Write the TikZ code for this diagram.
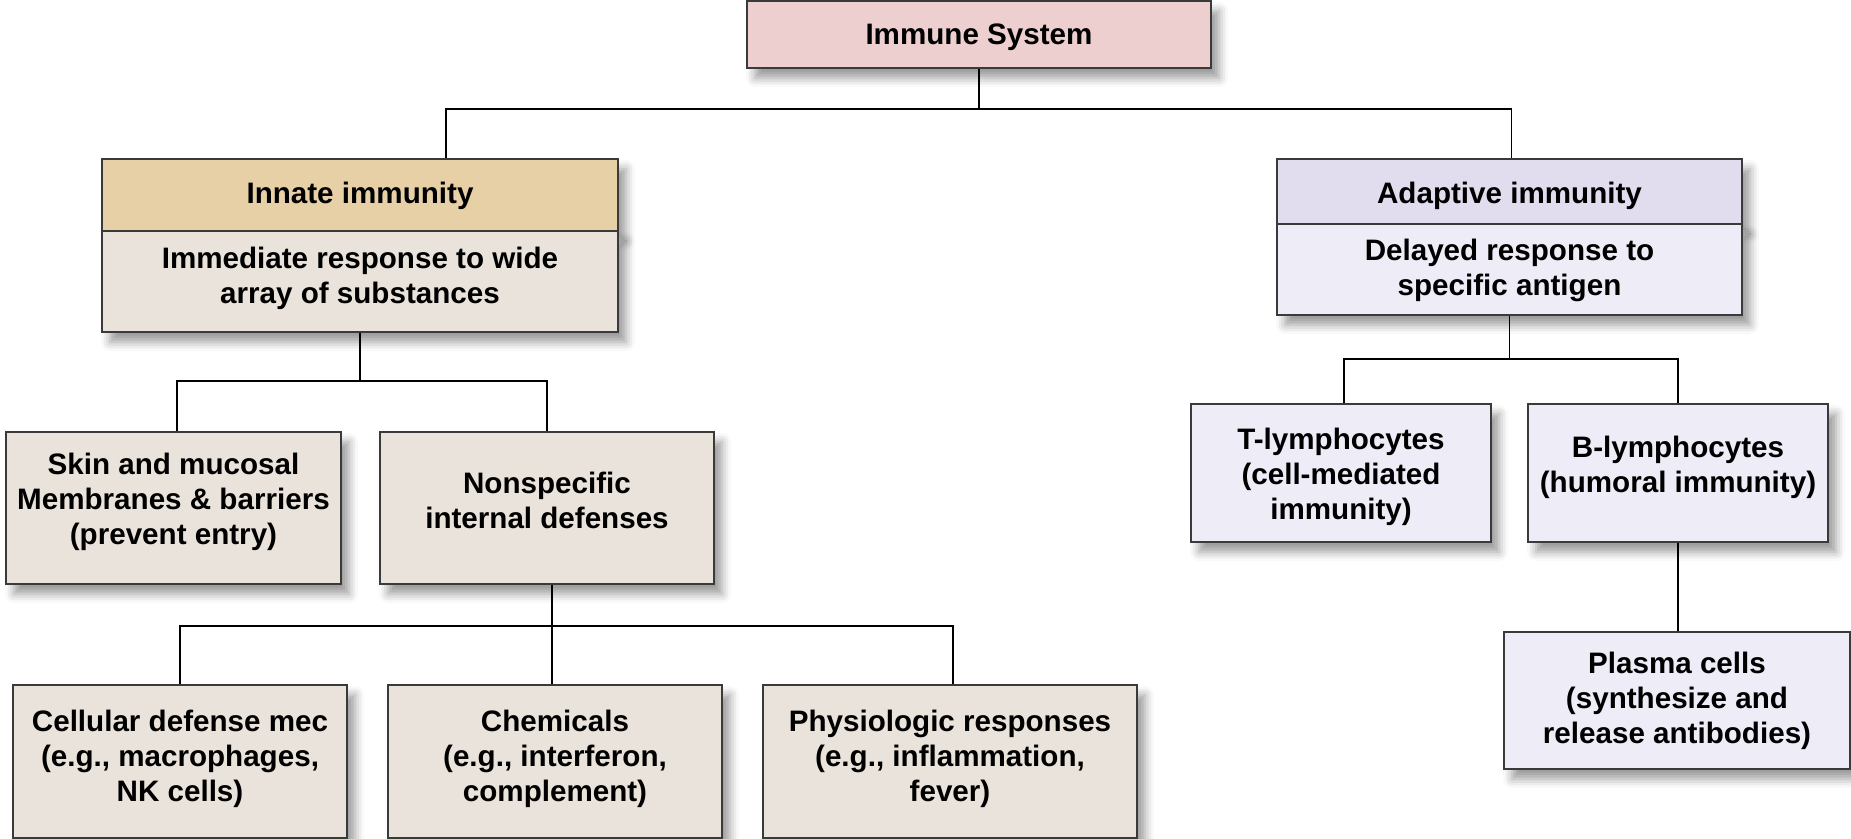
\documentclass[tikz,border=0pt]{standalone}
\usepackage{fontspec}
\setmainfont{Liberation Sans}
\usetikzlibrary{shadows.blur,calc}
\definecolor{immc}{HTML}{EDCFD0}
\definecolor{innhc}{HTML}{E8D0A6}
\definecolor{tanc}{HTML}{EAE3DB}
\definecolor{adhc}{HTML}{E1DDEE}
\definecolor{lavc}{HTML}{EEEDF7}
\definecolor{bordc}{HTML}{3A3A3A}
\begin{document}
\begin{tikzpicture}[x=0.5pt,y=-0.5pt,
  box/.style={draw=bordc, line width=0.8pt, inner sep=0pt,
    blur shadow={shadow xshift=4pt, shadow yshift=-5pt, shadow blur radius=4.5pt, shadow opacity=40}},
  txt/.style={align=center, inner sep=0pt, font=\fontsize{14.8}{17.5}\selectfont\bfseries},
  conn/.style={line width=0.8pt, black}]
\useasboundingbox (0,0) rectangle (1851,839);

% top
\node[box, fill=immc, minimum width=232pt, minimum height=33.5pt,
  label={[txt, yshift=-1.2pt]center:{Immune System}}] (imm) at (979,34.5) {};

% innate
\node[box, fill=innhc, minimum width=258pt, minimum height=36pt,
  label={[txt, yshift=-0.6pt]center:{Innate immunity}}] (innH) at (360,195) {};
\node[box, fill=tanc, minimum width=258pt, minimum height=50.5pt,
  label={[txt, yshift=1.75pt]center:{Immediate response to wide\\array of substances}}] (innB) at (360,281.5) {};

% adaptive
\node[box, fill=adhc, minimum width=232.5pt, minimum height=32.5pt,
  label={[txt, yshift=-2.4pt]center:{Adaptive immunity}}] (adH) at (1509.5,191.5) {};
\node[box, fill=lavc, minimum width=232.5pt, minimum height=45.5pt,
  label={[txt, yshift=-0.5pt]center:{Delayed response to\\specific antigen}}] (adB) at (1509.5,269.5) {};

% second level innate
\node[box, fill=tanc, minimum width=167.5pt, minimum height=76pt,
  label={[txt, yshift=3pt]center:{Skin and mucosal\\Membranes \& barriers\\(prevent entry)}}] (skin) at (173.5,508) {};
\node[box, fill=tanc, minimum width=167pt, minimum height=76pt,
  label={[txt, yshift=4pt]center:{Nonspecific\\internal defenses}}] (nons) at (547,508) {};

% third level innate
\node[box, fill=tanc, minimum width=167pt, minimum height=76.5pt,
  label={[txt, yshift=1.5pt]center:{Cellular defense mec\\(e.g., macrophages,\\NK cells)}}] (cell) at (180,761.5) {};
\node[box, fill=tanc, minimum width=167pt, minimum height=76.5pt,
  label={[txt, yshift=1.5pt]center:{Chemicals\\(e.g., interferon,\\complement)}}] (chem) at (555,761.5) {};
\node[box, fill=tanc, minimum width=187pt, minimum height=76.5pt,
  label={[txt, yshift=1.5pt]center:{Physiologic responses\\(e.g., inflammation,\\fever)}}] (phys) at (950,761.5) {};

% adaptive children
\node[box, fill=lavc, minimum width=150pt, minimum height=69pt,
  label={[txt, yshift=-2pt]center:{T-lymphocytes\\(cell-mediated\\immunity)}}] (tl) at (1341,473) {};
\node[box, fill=lavc, minimum width=150pt, minimum height=69pt,
  label={[txt, yshift=3pt]center:{B-lymphocytes\\(humoral immunity)}}] (bl) at (1678,473) {};
\node[box, fill=lavc, minimum width=173pt, minimum height=68.5pt,
  label={[txt, yshift=0pt]center:{Plasma cells\\(synthesize and\\release antibodies)}}] (pl) at (1677,700.5) {};

% connectors
\coordinate (j1) at (979,109);
\coordinate (j2) at (360,381);
\coordinate (j3) at (552,626);
\coordinate (j4) at (1509.5,359);

\draw[conn] (imm.south) -- (j1);
\draw[conn] ([xshift=43pt]innH.north) |- (j1) -| ([xshift=1pt]adH.north);

\draw[conn] (innB.south) -- (j2);
\draw[conn] ([xshift=1.75pt]skin.north) |- (j2) -| (nons.north);

\draw[conn] ([xshift=2.5pt]nons.south) -- (j3);
\draw[conn] (cell.north) |- (j3) -| ([xshift=1.5pt]phys.north);
\draw[conn] ([xshift=-1.5pt]chem.north) -- (j3);

\draw[conn] (adB.south) -- (j4);
\draw[conn] ([xshift=1.5pt]tl.north) |- (j4) -| (bl.north);

\draw[conn] (bl.south) -- (pl.north -| bl.south);
\end{tikzpicture}
\end{document}
